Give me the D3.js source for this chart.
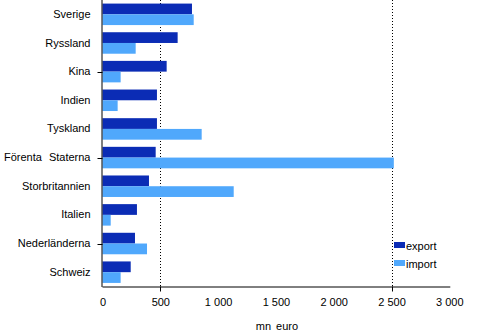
<!DOCTYPE html>
<html><head><meta charset="utf-8">
<script src="https://cdn.jsdelivr.net/npm/d3@7"></script>
<style>
html,body{margin:0;padding:0;background:#fff;}
svg{display:block;font-family:"Liberation Sans",Arial,sans-serif;}
</style></head>
<body>
<svg id="chart" width="479" height="333"></svg>
<script>
const categories = ["Sverige","Ryssland","Kina","Indien","Tyskland","Förenta Staterna","Storbritannien","Italien","Nederländerna","Schweiz"];
const exportValues = [774, 650, 555, 471, 471, 460, 402, 298, 281, 244];
const importValues = [789, 287, 157, 131, 858, 2520, 1135, 71, 385, 157];
const seriesNames = ["export", "import"];
const xTickValues = [0, 500, 1000, 1500, 2000, 2500, 3000];
const xTickLabels = ["0", "500", "1 000", "1 500", "2 000", "2 500", "3 000"];
const gridValues = [500, 2500];
const xTitle = "mn euro";

(function () {
const colors = {export: "#0b2cb5", import: "#50a8fc"};
const svg = d3.select("#chart");
const pLeft = 102.5, pRight = 449.3, pTop = 0, pBottom = 286.5;

const x = d3.scaleLinear().domain([0, 3000]).range([pLeft, pRight]);
const y = d3.scaleBand().domain(categories).range([pTop, pBottom]).paddingInner(0.25).paddingOuter(0.125);
const sub = d3.scaleBand().domain(seriesNames).range([0, y.bandwidth()]);

svg.append("g").selectAll("line").data(gridValues).join("line")
  .attr("x1", d => Math.round(x(d)) + 0.5).attr("x2", d => Math.round(x(d)) + 0.5)
  .attr("y1", pTop).attr("y2", pBottom)
  .attr("stroke", "#000").attr("stroke-width", 1).attr("stroke-dasharray", "1,2");

const rows = categories.map((c, i) => ({c, export: exportValues[i], import: importValues[i]}));
const g = svg.append("g");
seriesNames.forEach(s => {
  g.selectAll("rect." + s).data(rows).join("rect").attr("class", s)
    .attr("x", x(0))
    .attr("y", d => y(d.c) + sub(s))
    .attr("width", d => x(d[s]) - x(0))
    .attr("height", sub.bandwidth())
    .attr("fill", colors[s]);
});

const xAxis = d3.axisBottom(x).tickValues(xTickValues)
  .tickFormat((d, i) => xTickLabels[i]).tickSize(0).tickPadding(12);
const xg = svg.append("g").attr("transform", `translate(0,${pBottom})`).call(xAxis);
xg.select(".domain").attr("stroke", "#000").attr("d", `M${pLeft},0.5H${pRight + 1}`);
xg.selectAll("text").attr("font-size", 11).attr("fill", "#000").attr("font-family", "Liberation Sans, Arial, sans-serif");
xg.selectAll("line.gt").data(gridValues).join("line").attr("class", "gt")
  .attr("x1", d => Math.round(x(d)) + 0.5).attr("x2", d => Math.round(x(d)) + 0.5)
  .attr("y1", 0).attr("y2", 5).attr("stroke", "#000");

const yAxis = d3.axisLeft(y).tickSize(0).tickPadding(12);
const yg = svg.append("g").attr("transform", `translate(${pLeft},0)`).call(yAxis);
yg.select(".domain").attr("stroke", "#000").attr("d", `M-0.5,${pTop}V${pBottom + 0.5}`);
yg.selectAll("text").attr("font-size", 11).attr("fill", "#000").attr("word-spacing", 4)
  .attr("font-family", "Liberation Sans, Arial, sans-serif");
const tickCats = categories.filter((c, i) => i % 3 === 2);
yg.selectAll("line.ct").data(tickCats).join("line").attr("class", "ct")
  .attr("x1", -5).attr("x2", 0)
  .attr("y1", d => Math.round(y(d) + y.bandwidth() / 2) + 0.5)
  .attr("y2", d => Math.round(y(d) + y.bandwidth() / 2) + 0.5)
  .attr("stroke", "#000");

svg.append("text").attr("x", (pLeft + pRight) / 2 + 1).attr("y", 330)
  .attr("text-anchor", "middle").attr("font-size", 11).attr("word-spacing", 2).text(xTitle);

const lg = svg.append("g").attr("transform", "translate(394,241)");
seriesNames.forEach((s, i) => {
  lg.append("rect").attr("x", 0).attr("y", i * 18 + 1).attr("width", 11).attr("height", 6).attr("fill", colors[s]);
  lg.append("text").attr("x", 12).attr("y", i * 18 + 8.5).attr("font-size", 11).text(s);
});
})();
</script>
</body></html>
